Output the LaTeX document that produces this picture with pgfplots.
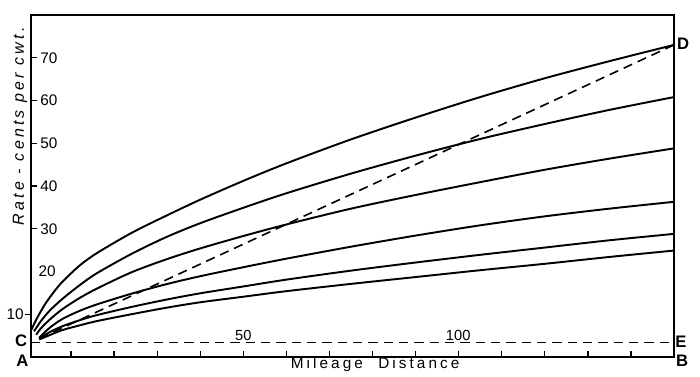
\documentclass[border=0pt]{standalone}
\usepackage{pgfplots}
\pgfplotsset{compat=1.18}
\usepackage{fontspec}
\setmainfont{Liberation Sans}
\newfontfamily\ylabfont[LetterSpace=20]{Liberation Sans}
\newfontfamily\xlabfont[LetterSpace=20]{Liberation Sans}
\begin{document}
\begin{tikzpicture}
\path[use as bounding box] (-23.25pt,-15pt) rectangle (501.75pt,267.75pt);
\begin{axis}[
  scale only axis, width=482.25pt, height=256.5pt,
  xmin=0.7, xmax=150, ymin=0, ymax=80,
  axis line style={line width=1.3pt},
  xtick={10,20,...,140}, xticklabels={},
  ytick={30,40,50,60,70},
  extra y ticks={10},
  extra y tick style={tick align=outside, yticklabel style={anchor=east, xshift=-1pt}},
  tick align=inside, xtick pos=bottom, ytick pos=left,
  major tick length=4.5pt,
  tick style={line width=1pt, black},
  yticklabel style={anchor=west, xshift=3.5pt, font=\fontsize{11.5}{13}\selectfont},
  /pgf/number format/assume math mode=true,
  clip=false,
]
% curves
\addplot[line width=1.45pt, smooth] coordinates {
(0.8,6.4) (2,8.9) (4,12.4) (6,15.2) (8,17.6) (12,21.4) (16,24.3) (24,29.0) (32,33.0) (40,36.8) (50,41.2) (60,45.3) (75,50.9) (90,56.0) (105,60.8) (120,65.2) (135,69.2) (150,73.0)};
\addplot[line width=1.45pt, smooth] coordinates {
(1.4,6.0) (3,8.4) (5,10.8) (8,13.6) (12,16.8) (16,19.6) (24,24.1) (32,28.0) (40,31.3) (50,34.9) (60,38.3) (75,42.9) (90,47.1) (105,51.0) (120,54.5) (135,57.8) (150,60.8)};
\addplot[line width=1.45pt, smooth] coordinates {
(1.9,5.2) (3,6.7) (5,8.7) (8,11.2) (12,13.8) (16,16.0) (24,19.8) (32,22.8) (40,25.4) (50,28.3) (60,31.0) (75,34.7) (90,37.9) (105,40.9) (120,43.8) (135,46.4) (150,48.8)};
\addplot[line width=1.45pt, smooth] coordinates {
(2.6,4.5) (5,6.8) (8,8.9) (12,10.8) (16,12.3) (24,14.8) (32,17.0) (40,18.9) (50,21.0) (60,23.0) (75,25.8) (90,28.4) (105,30.8) (120,32.9) (135,34.7) (150,36.3)};
\addplot[line width=1.45pt, smooth] coordinates {
(2.6,4.3) (5,5.8) (8,7.2) (12,8.6) (16,9.8) (24,11.7) (32,13.4) (40,14.9) (50,16.5) (60,18.1) (75,20.2) (90,22.1) (105,23.9) (120,25.6) (135,27.3) (150,28.8)};
\addplot[line width=1.45pt, smooth] coordinates {
(2.6,4.1) (5,5.1) (8,6.3) (12,7.4) (16,8.4) (24,10.0) (32,11.5) (40,12.8) (50,14.1) (60,15.4) (75,17.1) (90,18.7) (105,20.3) (120,21.8) (135,23.4) (150,24.9)};
% dashed lines
\addplot[line width=1.2pt, dash pattern=on 7pt off 4.5pt] coordinates {(2.6,4.3) (150,73.0)};
\addplot[line width=1.2pt, dash pattern=on 7pt off 4.5pt] coordinates {(0.7,3.4) (150,3.4)};
% annotations
\node[rotate=90, font=\ylabfont\itshape\fontsize{12}{14}\selectfont] at (axis cs:-1.86,54.0) {Rate - cents per cwt.};
\node[anchor=west, font=\fontsize{11.5}{13}\selectfont] at (axis cs:1.4,20.0) {20};
\node[anchor=south, inner sep=0.8pt, font=\fontsize{11}{12}\selectfont] at (axis cs:50,3.4) {50};
\node[anchor=south, inner sep=0.8pt, font=\fontsize{11}{12}\selectfont] at (axis cs:99.9,3.4) {100};
\node[font=\xlabfont\fontsize{11.5}{13}\selectfont] at (axis cs:80.6,-1.75) {Mileage\quad Distance};
\node[font=\fontsize{12.5}{14}\selectfont\bfseries] at (axis cs:-1.3,-0.8) {A};
\node[font=\fontsize{12.5}{14}\selectfont\bfseries] at (axis cs:-1.6,3.75) {C};
\node[font=\fontsize{12.5}{14}\selectfont\bfseries] at (axis cs:152.1,73.3) {D};
\node[font=\fontsize{12.5}{14}\selectfont\bfseries] at (axis cs:151.6,3.5) {E};
\node[font=\fontsize{12.5}{14}\selectfont\bfseries] at (axis cs:151.9,-0.8) {B};
\end{axis}
\end{tikzpicture}
\end{document}
